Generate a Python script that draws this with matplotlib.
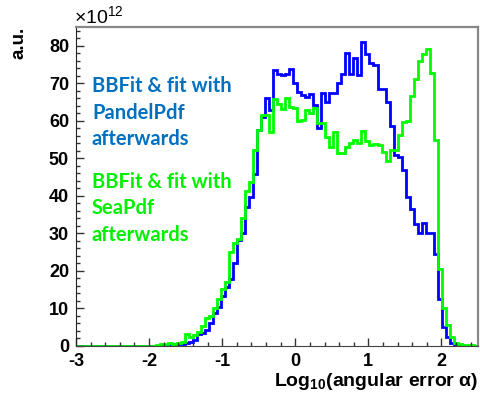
import numpy as np
import matplotlib
matplotlib.use('Agg')
import matplotlib.pyplot as plt
from matplotlib.ticker import MultipleLocator

# 100 bins between -3 and 2.5 (log10 of angular error)
x_min, x_max, n_bins = -3.0, 2.5, 100

# BBFit + PandelPdf (blue), values in units of 1e12
pandel = [0] * 20 + [
    0.1, 0.2, 0.3, 0.3, 0.4, 0.4, 0.5, 0.8, 1.0, 1.7,
    3.3, 3.4, 4.2, 6.2, 8.8, 10.4, 13.2, 15.8, 17.8, 22.2,
    28.2, 30.0, 37.1, 39.8, 45.8, 57.5, 60.9, 66.0, 63.0, 73.5,
    72.4, 72.1, 72.4, 73.9, 70.2, 67.7, 66.9, 66.4, 67.2, 64.2,
    58.1, 67.3, 65.0, 67.5, 67.5, 70.2, 72.6, 78.1, 72.6, 76.8,
    72.2, 81.1, 77.8, 75.3, 74.9, 68.6, 68.6, 65.0, 58.6, 50.9,
    50.4, 46.9, 39.7, 36.6, 32.6, 30.0, 32.8, 30.1, 30.1, 24.6,
    12.4, 5.1, 2.4, 0.9, 0.3, 0.1, 0, 0, 0, 0]

# BBFit + SeaPdf (green)
seapdf = [0] * 18 + [
    0.1, 0.1,
    0.2, 0.4, 0.6, 0.8, 0.6, 0.8, 1.1, 3.3, 2.4, 3.0,
    3.7, 5.4, 7.5, 7.9, 10.1, 12.4, 15.1, 17.1, 25.1, 27.4,
    28.6, 34.0, 41.2, 43.7, 52.1, 57.6, 61.5, 61.5, 57.0, 65.7,
    64.6, 63.2, 66.0, 63.7, 63.5, 60.0, 60.2, 62.9, 62.2, 63.5,
    59.3, 59.5, 55.6, 53.1, 57.0, 51.4, 51.4, 53.1, 54.0, 54.9,
    54.0, 57.3, 54.6, 53.6, 53.9, 53.5, 51.6, 49.4, 52.2, 52.2,
    56.2, 59.8, 60.0, 66.5, 71.2, 75.9, 77.8, 79.1, 72.7, 54.9,
    20.4, 10.0, 5.7, 2.4, 0.8, 0.4, 0.3, 0.2, 0.2, 0.1]

edges = np.linspace(x_min, x_max, n_bins + 1)

plt.rcParams['font.family'] = ['Liberation Sans', 'DejaVu Sans']
plt.rcParams['axes.unicode_minus'] = False
plt.rcParams['mathtext.fontset'] = 'custom'
plt.rcParams['mathtext.rm'] = 'Liberation Sans:bold'
plt.rcParams['mathtext.bf'] = 'Liberation Sans:bold'

fig = plt.figure(figsize=(4.81, 3.96), dpi=100)
ax = fig.add_axes([76 / 481, 1 - 346 / 396, 402 / 481, 319 / 396])

ax.stairs(pandel, edges, color='#0000ff', linewidth=2)
ax.stairs(seapdf, edges, color='#00ff00', linewidth=2)

ax.set_xlim(x_min, x_max)
ax.set_ylim(0, 85)

ax.xaxis.set_major_locator(MultipleLocator(1))
ax.xaxis.set_minor_locator(MultipleLocator(0.2))
ax.yaxis.set_major_locator(MultipleLocator(10))
ax.yaxis.set_minor_locator(MultipleLocator(2))
ax.tick_params(which='both', direction='in', top=False, right=False, width=1, color='#333333')
ax.tick_params(which='major', length=6, labelsize=13, pad=5)
ax.tick_params(which='minor', length=3)
for lab in ax.get_xticklabels() + ax.get_yticklabels():
    lab.set_fontweight('bold')

ax.spines['left'].set_color('#222222')
ax.spines['bottom'].set_color('#444444')
for s in ['top', 'right']:
    ax.spines[s].set_color('#888888')
    ax.spines[s].set_linewidth(1.6)

fig.text(478 / 481, 1 - 382 / 396, r'Log$_{10}$(angular error α)',
         ha='right', va='center', fontsize=14, fontweight='bold')
fig.text(19 / 481, 1 - 43 / 396, 'a.u.', rotation=90, ha='center', va='center',
         fontsize=13.5, fontweight='bold')
fig.text(74 / 481, 1 - 17 / 396, r'×10$^{\mathregular{12}}$', ha='left', va='center',
         fontsize=14)

blue_txt = ['BBFit & fit with', 'PandelPdf', 'afterwards']
green_txt = ['BBFit & fit with', 'SeaPdf', 'afterwards']
for i, t in enumerate(blue_txt):
    fig.text(92 / 481, 1 - (86 + 26.5 * i) / 396, t, color='#0070c0', fontsize=14.5,
             fontweight='bold', family='Lato', ha='left', va='center')
for i, t in enumerate(green_txt):
    fig.text(92 / 481, 1 - (182 + 26.5 * i) / 396, t, color='#00f000', fontsize=14.5,
             fontweight='bold', family='Lato', ha='left', va='center')

fig.savefig('out.png', dpi=100)
